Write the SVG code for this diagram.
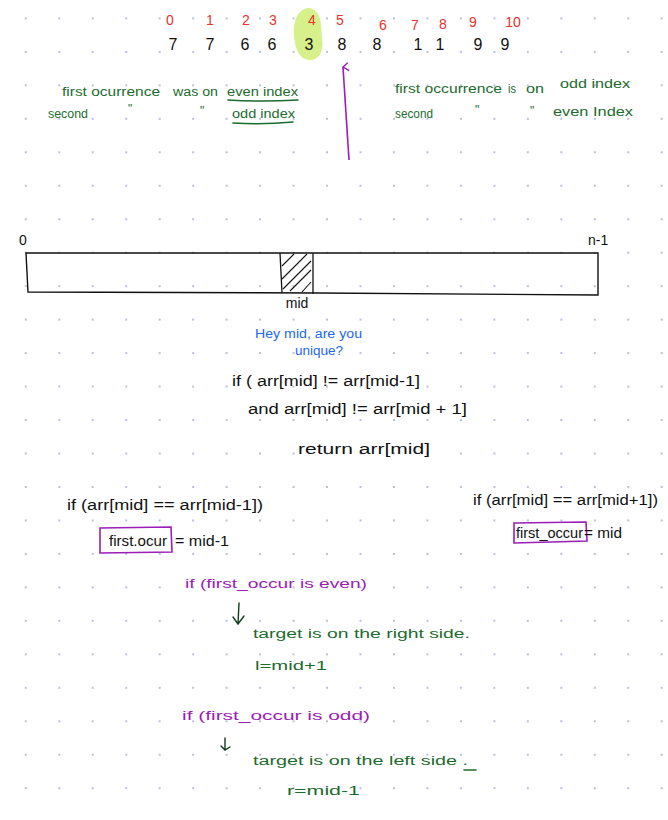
<svg xmlns="http://www.w3.org/2000/svg" width="668" height="820" viewBox="0 0 668 820">
<style>
text{font-family:"Liberation Sans",Arial,sans-serif}
.idx{fill:#e8322b;font-size:14px}
.val{fill:#111;font-size:16px}
.g{fill:#1d6b2e;font-size:12px}
.b{fill:#111;font-size:14px}
.blue{fill:#2368ef;font-size:12px}
.p{fill:#9c1cb8;font-size:13px}
.gl{stroke:#1d6b2e;stroke-width:1.6;fill:none;stroke-linecap:round}
.box{stroke:#9c1cb8;stroke-width:1.6;fill:none}
</style>
<defs>
<pattern id="dots" patternUnits="userSpaceOnUse" x="9.07" y="1.67" width="33.47" height="33.47">
<rect x="15.73" y="15.73" width="2" height="2" fill="#b4c1df"/>
</pattern>
<marker id="ahP" viewBox="0 0 10 10" refX="5" refY="1" markerWidth="10" markerHeight="10" orient="auto-start-reverse" markerUnits="userSpaceOnUse">
<path d="M1,7 L5,1 L9,6" fill="none" stroke="#9c1cb8" stroke-width="1.4"/>
</marker>
</defs>
<rect width="668" height="820" fill="#fff"/>
<rect width="668" height="820" fill="url(#dots)"/>

<g id="array-top">
<path d="M308,8 C296,10 293,24 294,36 C295,50 300,60 310,60 C320,60 324,50 322,38 C321,26 322,9 308,8 Z" fill="#d6f08a"/>
<text class="idx" x="170" y="25" text-anchor="middle">0</text>
<text class="idx" x="210" y="25" text-anchor="middle">1</text>
<text class="idx" x="246" y="25" text-anchor="middle">2</text>
<text class="idx" x="273" y="25" text-anchor="middle">3</text>
<text class="idx" x="312" y="25" text-anchor="middle">4</text>
<text class="idx" x="340" y="25" text-anchor="middle">5</text>
<text class="idx" x="383" y="30" text-anchor="middle">6</text>
<text class="idx" x="415" y="30" text-anchor="middle">7</text>
<text class="idx" x="443" y="29" text-anchor="middle">8</text>
<text class="idx" x="473" y="27" text-anchor="middle">9</text>
<text class="idx" x="513" y="27" text-anchor="middle">10</text>
<text class="val" x="173" y="50" text-anchor="middle">7</text>
<text class="val" x="210" y="50" text-anchor="middle">7</text>
<text class="val" x="245" y="50" text-anchor="middle">6</text>
<text class="val" x="272" y="50" text-anchor="middle">6</text>
<text class="val" x="309" y="50" text-anchor="middle">3</text>
<text class="val" x="342" y="50" text-anchor="middle">8</text>
<text class="val" x="377" y="50" text-anchor="middle">8</text>
<text class="val" x="418" y="50" text-anchor="middle">1</text>
<text class="val" x="440" y="50" text-anchor="middle">1</text>
<text class="val" x="478" y="50" text-anchor="middle">9</text>
<text class="val" x="505" y="50" text-anchor="middle">9</text>
</g>

<g id="note-left">
<text class="g" x="62" y="96" textLength="98" lengthAdjust="spacingAndGlyphs">first ocurrence</text>
<text class="g" x="173" y="96" textLength="45" lengthAdjust="spacingAndGlyphs">was on</text>
<text class="g" x="227" y="96" textLength="71" lengthAdjust="spacingAndGlyphs">even index</text>
<path class="gl" d="M228,100 Q262,102 298,100"/>
<text class="g" x="48" y="118" textLength="40" lengthAdjust="spacingAndGlyphs">second</text>
<text class="g" x="128" y="113" font-size="8">"</text>
<text class="g" x="200" y="115" font-size="8">"</text>
<text class="g" x="232" y="118" textLength="63" lengthAdjust="spacingAndGlyphs">odd index</text>
<path class="gl" d="M233,123 Q263,125 293,122"/>
</g>

<g id="note-right">
<text class="g" x="395" y="93" textLength="107" lengthAdjust="spacingAndGlyphs">first occurrence</text>
<text class="g" x="508" y="93" textLength="8" lengthAdjust="spacingAndGlyphs">is</text>
<text class="g" x="526" y="93" textLength="18" lengthAdjust="spacingAndGlyphs">on</text>
<text class="g" x="560" y="88" textLength="70" lengthAdjust="spacingAndGlyphs">odd index</text>
<text class="g" x="395" y="118" textLength="38" lengthAdjust="spacingAndGlyphs">second</text>
<text class="g" x="475" y="114" font-size="8">"</text>
<text class="g" x="530" y="115" font-size="8">"</text>
<text class="g" x="553" y="116" textLength="80" lengthAdjust="spacingAndGlyphs">even Index</text>
</g>

<g id="array-bar">
<text class="b" x="19" y="245" font-size="13">0</text>
<text class="b" x="588" y="245" font-size="13">n-1</text>
<path d="M26,253 L598,253 L598,295 L319,293 L28,292 Z" fill="none" stroke="#111" stroke-width="1.4"/>
<path d="M280,253 L282,293 M313,253 L313,294" fill="none" stroke="#111" stroke-width="1.3"/>
<g stroke="#111" stroke-width="1.1" fill="none">
<path d="M282,266 L294,254"/>
<path d="M282,279 L307,254"/>
<path d="M283,289 L311,261"/>
<path d="M290,291 L311,270"/>
<path d="M302,292 L311,282"/>
</g>
<text class="b" x="297" y="308" font-size="11" text-anchor="middle">mid</text>
</g>

<g id="unique-check">
<text class="blue" x="255" y="338" textLength="107" lengthAdjust="spacingAndGlyphs">Hey mid, are you</text>
<text class="blue" x="295" y="355" textLength="48" lengthAdjust="spacingAndGlyphs">unique?</text>
<text class="b" x="232" y="386" textLength="188" lengthAdjust="spacingAndGlyphs">if ( arr[mid] != arr[mid-1]</text>
<text class="b" x="248" y="414" textLength="219" lengthAdjust="spacingAndGlyphs">and  arr[mid] != arr[mid + 1]</text>
<text class="b" x="298" y="454" textLength="132" lengthAdjust="spacingAndGlyphs">return  arr[mid]</text>
</g>

<g id="left-case">
<text class="b" x="67" y="510" textLength="196" lengthAdjust="spacingAndGlyphs">if (arr[mid] == arr[mid-1])</text>
<path class="box" d="M100,528 L171,527 L172,552 L100,553 Z"/>
<text class="b" x="109" y="546" font-size="13" textLength="58" lengthAdjust="spacingAndGlyphs">first.ocur</text>
<text class="b" x="175" y="546" font-size="13" textLength="54" lengthAdjust="spacingAndGlyphs">= mid-1</text>
</g>

<g id="right-case">
<text class="b" x="473" y="505" textLength="185" lengthAdjust="spacingAndGlyphs">if (arr[mid] == arr[mid+1])</text>
<path class="box" d="M514,523 L586,522 L587,541 L514,543 Z"/>
<text class="b" x="516" y="538" font-size="12" textLength="67" lengthAdjust="spacingAndGlyphs">first_occur</text>
<text class="b" x="584" y="538" font-size="12" textLength="38" lengthAdjust="spacingAndGlyphs">= mid</text>
</g>

<g id="even-case">
<text class="p" x="185" y="588" textLength="182" lengthAdjust="spacingAndGlyphs">if (first_occur  is even)</text>
<text class="g" x="253" y="638" textLength="217" lengthAdjust="spacingAndGlyphs">target  is  on the right side.</text>
<text class="g" x="255" y="670" textLength="72" lengthAdjust="spacingAndGlyphs">l=mid+1</text>
</g>

<g id="odd-case">
<text class="p" x="182" y="720" textLength="188" lengthAdjust="spacingAndGlyphs">if (first_occur  is  odd)</text>
<text class="g" x="253" y="765" textLength="215" lengthAdjust="spacingAndGlyphs">target  is  on the left side .</text>
<path class="gl" d="M464,770 L476,770"/>
<text class="g" x="287" y="795" textLength="73" lengthAdjust="spacingAndGlyphs">r=mid-1</text>
</g>

<g id="connectors">
<path d="M349,160 L343,67" fill="none" stroke="#9c1cb8" stroke-width="1.6" marker-end="url(#ahP)"/>
<path d="M239,603 L238,624 M233,617 L238,624 L244,616" fill="none" stroke="#123d20" stroke-width="1.4" stroke-linecap="round"/>
<path d="M225,738 L225,750 M221,746 L225,750 L230,747" fill="none" stroke="#123d20" stroke-width="1.4" stroke-linecap="round"/>
</g>
</svg>
